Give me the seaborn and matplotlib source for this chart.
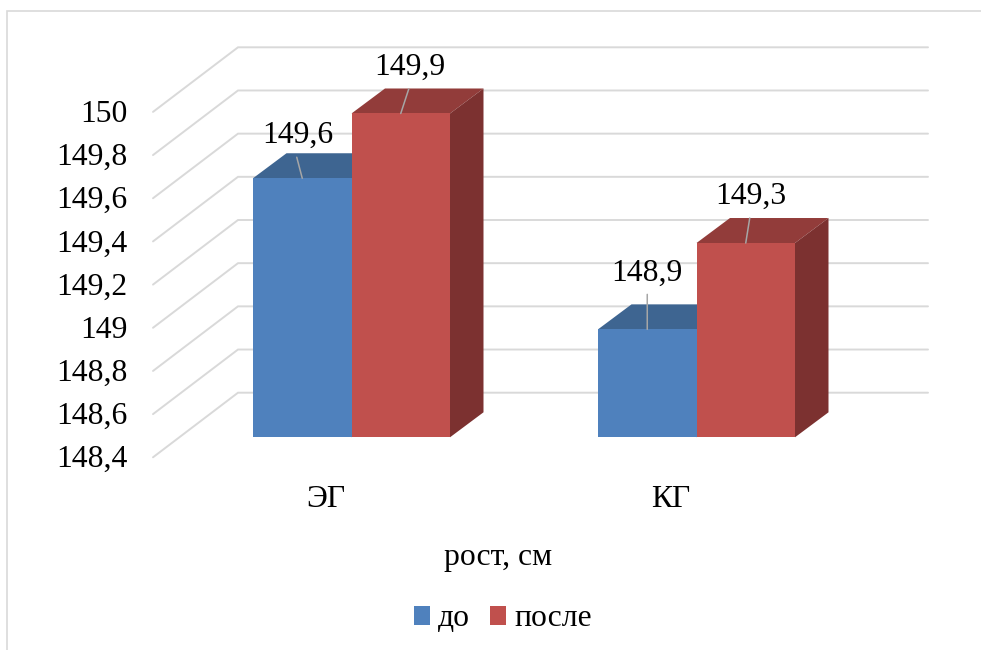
import pandas as pd
import seaborn as sns
import matplotlib.pyplot as plt
from matplotlib.lines import Line2D
from matplotlib.patches import Polygon
from matplotlib.transforms import ScaledTranslation

# chart data
groups = ["ЭГ", "КГ"]
before = [149.6, 148.9]
after = [149.9, 149.3]
series_names = ["до", "после"]
y_ticks = [148.4, 148.6, 148.8, 149, 149.2, 149.4, 149.6, 149.8, 150]
x_title = "рост, см"

# colours: front, top, side of the fake 3d boxes
FRONT = ["#4F81BD", "#C0504D"]
TOP = ["#3E6591", "#923C3A"]
SIDE = ["#3A5F8A", "#7C3130"]
GRID = "#D9D9D9"
LEADER = "#A6A6A6"
FONT_SIZE = 22.8

# plot box in pixels of the 981x650 figure
W, H = 981, 650
LEFT, RIGHT, BOTTOM, TOP_PX = 179, 869, 437.3, 91.9
PX_X = (RIGHT - LEFT) / 2  # pixels per category
PX_Y = (BOTTOM - TOP_PX) / (y_ticks[-1] - y_ticks[0])  # pixels per cm

# label and leader offsets from bar top, pixels (x, up)
label_offsets = [(-4.5, 43), (0, 56), (9, 46), (5, 47)]
leader_offsets = [(-5.5, 21), (0, 35), (8, 24.5), (4, 25)]

sns.set_theme(style="white")
plt.rcParams["font.family"] = ["Liberation Serif", "DejaVu Serif"]

df = pd.DataFrame({
    "group": groups * 2,
    "value": before + after,
    "time": [series_names[0]] * 2 + [series_names[1]] * 2,
})

fig = plt.figure(figsize=(W / 100, H / 100), dpi=100, facecolor="white")
ax = fig.add_axes([LEFT / W, 1 - BOTTOM / H, (RIGHT - LEFT) / W, (BOTTOM - TOP_PX) / H])

sns.barplot(data=df, x="group", y="value", hue="time", palette=FRONT,
            width=0.571, gap=0, saturation=1, linewidth=0, ax=ax)
ax.set_xlim(-0.5, 1.5)
ax.set_ylim(y_ticks[0], y_ticks[-1])
sns.despine(ax=ax, left=True, bottom=True)

# walls: gridlines go from the front of the floor, back, then to the right
x_front = (153 - LEFT) / PX_X - 0.5
x_back = (238 - LEFT) / PX_X - 0.5
x_end = (928 - LEFT) / PX_X - 0.5
y_front = -20 / PX_Y
y_back = 44.6 / PX_Y
for v in y_ticks:
    ax.plot([x_front, x_back, x_end], [v + y_front, v + y_back, v + y_back],
            color=GRID, lw=1.4, zorder=1, clip_on=False, solid_joinstyle="miter")

# depth of each box
box_dx = 33.5 / PX_X
box_dy = 25 / PX_Y

z = 2
bar_tops = []
for i, bars in enumerate(ax.containers):
    for bar in bars:
        x0 = bar.get_x()
        x1 = x0 + bar.get_width()
        v = bar.get_height()
        bar_tops.append((x0 + bar.get_width() / 2, v))
        top = Polygon([(x0, v), (x0 + box_dx, v + box_dy), (x1 + box_dx, v + box_dy), (x1, v)],
                      closed=True, fc=TOP[i], ec="none", zorder=z, clip_on=False)
        side = Polygon([(x1, y_ticks[0]), (x1 + box_dx, y_ticks[0] + box_dy),
                        (x1 + box_dx, v + box_dy), (x1, v)],
                       closed=True, fc=SIDE[i], ec="none", zorder=z, clip_on=False)
        ax.add_patch(top)
        ax.add_patch(side)
        bar.set_zorder(z + 0.5)
    z += 1

# data labels with their thin leader lines
for (x, v), lab, lead in zip(bar_tops, label_offsets, leader_offsets):
    ax.annotate("", xy=(x, v), xytext=lead, textcoords="offset pixels",
                arrowprops=dict(arrowstyle="-", color=LEADER, lw=1.1, shrinkA=0, shrinkB=0),
                zorder=9, annotation_clip=False)
    ax.annotate(f"{v:g}".replace(".", ","), xy=(x, v), xytext=lab, textcoords="offset pixels",
                ha="center", va="center", fontsize=FONT_SIZE, color="black",
                zorder=10, annotation_clip=False)

# tick labels sit at the front edge of the floor, not at the bars
ax.set_yticks(y_ticks, [f"{v:g}".replace(".", ",") for v in y_ticks])
ax.tick_params(axis="y", length=0, pad=37, labelsize=FONT_SIZE, labelcolor="black")
ax.tick_params(axis="x", length=0, pad=34.5, labelsize=FONT_SIZE, labelcolor="black")
for label in ax.get_yticklabels():
    label.set_transform(label.get_transform() + ScaledTranslation(0, -19 / 100, fig.dpi_scale_trans))
for label in ax.get_xticklabels():
    label.set_transform(label.get_transform() + ScaledTranslation(-25.5 / 100, 0, fig.dpi_scale_trans))

ax.set_ylabel("")
ax.set_xlabel(x_title, fontsize=FONT_SIZE, color="black", va="center")
ax.xaxis.set_label_coords((498.5 - LEFT) / (RIGHT - LEFT), (BOTTOM - 558) / (BOTTOM - TOP_PX))

ax.legend(loc="center", bbox_to_anchor=(503 / W, 1 - 619 / H), bbox_transform=fig.transFigure,
          ncol=2, frameon=False, fontsize=FONT_SIZE, title=None, handlelength=0.52, handleheight=0.52,
          handletextpad=0.25, columnspacing=0.62, borderpad=0, labelcolor="black")

# chart area border, only top and left show in the picture
fig.add_artist(Line2D([6.5 / W, 6.5 / W, 1], [0, 1 - 10.5 / H, 1 - 10.5 / H],
                      color=GRID, lw=1.2, solid_joinstyle="miter"))

plt.savefig("out.png", dpi=100)
